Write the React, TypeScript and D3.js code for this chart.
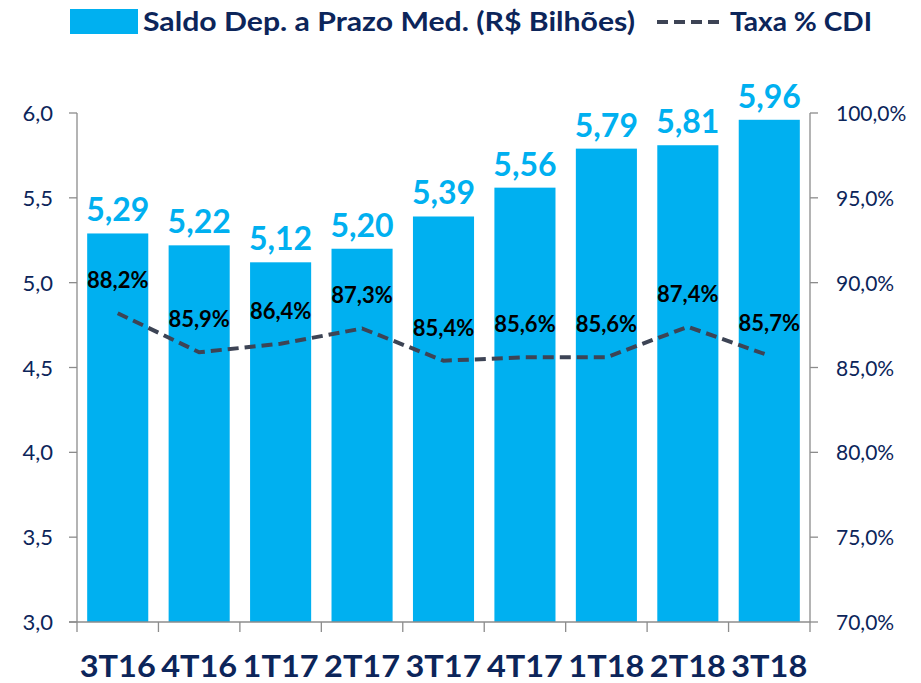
import React from "react";
import * as d3 from "d3";

const categories = ["3T16", "4T16", "1T17", "2T17", "3T17", "4T17", "1T18", "2T18", "3T18"];
const saldo = [5.29, 5.22, 5.12, 5.2, 5.39, 5.56, 5.79, 5.81, 5.96];
const taxa = [88.2, 85.9, 86.4, 87.3, 85.4, 85.6, 85.6, 87.4, 85.7];
const leftTicks = [3.0, 3.5, 4.0, 4.5, 5.0, 5.5, 6.0];
const rightTicks = [70, 75, 80, 85, 90, 95, 100];

const W = 921;
const H = 683;
const x0 = 77;
const x1 = 810;
const yTop = 113;
const yBot = 622;
const NAVY = "#0C255A";
const BLUE = "#00B0F0";
const LINE = "#3D4455";
const FONT = "Lato, 'Open Sans', sans-serif";

const fmt = (v: number, d: number) => v.toFixed(d).replace(".", ",");

export default function App() {
  const x = d3.scaleBand<string>().domain(categories).range([x0, x1]).paddingInner(0.25).paddingOuter(0.125);
  const xb = d3.scaleBand<string>().domain(categories).range([x0, x1]);
  const yL = d3.scaleLinear().domain([3, 6]).range([yBot, yTop]);
  const yR = d3.scaleLinear().domain([70, 100]).range([yBot, yTop]);
  const line = d3
    .line<number>()
    .x((_, i) => (xb(categories[i]) as number) + xb.bandwidth() / 2)
    .y((d) => yR(d));

  return (
    <svg width={W} height={H} style={{ position: "absolute", left: 0, top: 0 }} fontFamily={FONT}>
      <rect width={W} height={H} fill="#fff" />
      {/* legend */}
      <rect x={70} y={9} width={68} height={25} fill={BLUE} />
      <text x={143} y={31} fontSize={27} fontWeight={700} fill={NAVY} textLength={492} lengthAdjust="spacingAndGlyphs">
        Saldo Dep. a Prazo Med. (R$ Bilhões)
      </text>
      <line x1={657} x2={725} y1={22} y2={22} stroke={LINE} strokeWidth={4} strokeDasharray="11 6" />
      <text x={730} y={31} fontSize={27} fontWeight={700} fill={NAVY} textLength={142} lengthAdjust="spacingAndGlyphs">
        Taxa % CDI
      </text>

      {/* bars */}
      {saldo.map((v, i) => (
        <rect key={i} x={x(categories[i])} y={yL(v)} width={x.bandwidth()} height={yL(3) - yL(v)} fill={BLUE} />
      ))}
      {saldo.map((v, i) => (
        <text
          key={"bl" + i}
          x={(x(categories[i]) as number) + x.bandwidth() / 2}
          y={yL(v) - 12}
          textAnchor="middle"
          fontSize={32}
          fontWeight={700}
          fill={BLUE}
        >
          {fmt(v, 2)}
        </text>
      ))}

      {/* axes */}
      <line x1={x0} x2={x0} y1={yTop} y2={yBot} stroke="#8C8C8C" strokeWidth={1.3} />
      <line x1={x1} x2={x1} y1={yTop} y2={yBot + 10} stroke="#8C8C8C" strokeWidth={1.3} />
      <line x1={x0 - 8} x2={x1} y1={yBot} y2={yBot} stroke="#8C8C8C" strokeWidth={1.3} />
      {leftTicks.map((t) => (
        <g key={"l" + t}>
          <line x1={x0 - 8} x2={x0} y1={yL(t)} y2={yL(t)} stroke="#8C8C8C" strokeWidth={1.3} />
          <text x={53} y={yL(t) + 8} textAnchor="end" fontSize={22} fill={NAVY}>
            {fmt(t, 1)}
          </text>
        </g>
      ))}
      {rightTicks.map((t) => (
        <g key={"r" + t}>
          <line x1={x1} x2={x1 + 8} y1={yR(t)} y2={yR(t)} stroke="#8C8C8C" strokeWidth={1.3} />
          <text x={836} y={yR(t) + 8} textAnchor="start" fontSize={21} fill={NAVY}>
            {fmt(t, 1) + "%"}
          </text>
        </g>
      ))}
      {categories.map((c, i) => (
        <g key={"c" + c}>
          <line
            x1={(xb(c) as number)}
            x2={(xb(c) as number)}
            y1={yBot}
            y2={yBot + 10}
            stroke="#8C8C8C"
            strokeWidth={1.3}
          />
          <text
            x={(xb(c) as number) + xb.bandwidth() / 2}
            y={677}
            textAnchor="middle"
            fontSize={30}
            fontWeight={700}
            fill={NAVY}
            textLength={76}
            lengthAdjust="spacingAndGlyphs"
          >
            {c}
          </text>
        </g>
      ))}

      {/* line */}
      <path d={line(taxa) || ""} fill="none" stroke={LINE} strokeWidth={4} strokeDasharray="11 6" />
      {taxa.map((v, i) => (
        <text
          key={"tl" + i}
          x={(xb(categories[i]) as number) + xb.bandwidth() / 2}
          y={yR(v) - 25}
          textAnchor="middle"
          fontSize={22}
          fontWeight={700}
          fill="#000"
        >
          {fmt(v, 1) + "%"}
        </text>
      ))}
    </svg>
  );
}
